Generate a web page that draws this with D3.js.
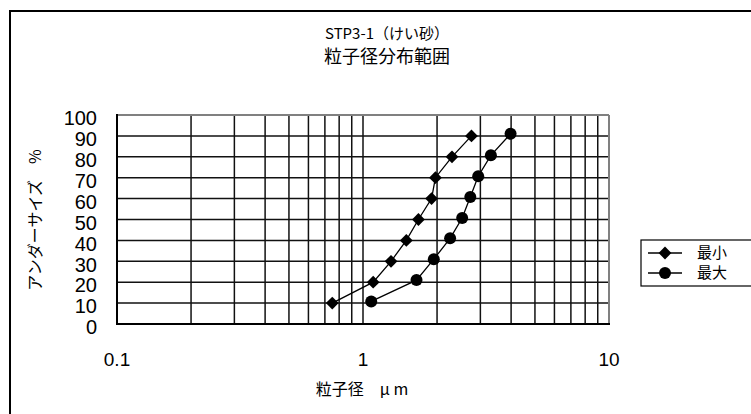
<!DOCTYPE html>
<html>
<head>
<meta charset="utf-8">
<script src="https://cdn.jsdelivr.net/npm/d3@7"></script>
<style>
  body { margin: 0; background: #fff; }
  svg text { fill: #000; }
  .jp { font-family: "Noto Sans CJK JP", sans-serif; }
  .num { font-family: "Liberation Sans", Arial, sans-serif; }
</style>
</head>
<body>
<svg id="chart" width="751" height="414"></svg>
<script>
// percent levels (under size %)
const pctLevels = [10, 20, 30, 40, 50, 60, 70, 80, 90];
// particle size, min curve (um)
const sizeMin = [0.75, 1.1, 1.3, 1.5, 1.68, 1.9, 1.97, 2.3, 2.76];
// particle size, max curve (um) and its plotted percents
const sizeMax = [1.08, 1.65, 1.94, 2.26, 2.53, 2.73, 2.94, 3.31, 3.98];
const pctMax = [10.8, 21, 31, 41, 50.7, 60.8, 70.7, 80.7, 91];
const seriesNames = ["最小", "最大"];
const xTickLabels = ["0.1", "1", "10"];
const yTickValues = [0, 10, 20, 30, 40, 50, 60, 70, 80, 90, 100];

const svg = d3.select("#chart");

// chart frame
svg.append("rect")
  .attr("x", 10).attr("y", 11)
  .attr("width", 800).attr("height", 500)
  .attr("fill", "none")
  .attr("stroke", "#000")
  .attr("stroke-width", 2);

const plot = { left: 117, right: 609, top: 115, bottom: 324 };

const x = d3.scaleLog().domain([0.1, 10]).range([plot.left, plot.right]);
const y = d3.scaleLinear().domain([0, 100]).range([plot.bottom, plot.top]);

// title
const title = svg.append("text")
  .attr("class", "jp")
  .attr("text-anchor", "middle")
  .style("font-size", "15px");
title.append("tspan").attr("x", 387).attr("y", 39).text("STP3-1（けい砂）");
title.append("tspan").attr("x", 387).attr("y", 63).style("font-size", "18px").text("粒子径分布範囲");

// grid
const g = svg.append("g");
const minorTicks = x.ticks(30).filter(d => d > 0.1 && d < 10);

g.selectAll(".vgrid")
  .data(minorTicks)
  .enter().append("line")
  .attr("class", "vgrid")
  .attr("x1", d => x(d)).attr("x2", d => x(d))
  .attr("y1", plot.top).attr("y2", plot.bottom)
  .attr("stroke", "#111")
  .attr("stroke-width", 1.5);

g.selectAll(".hgrid")
  .data(yTickValues.filter(d => d > 0 && d < 100))
  .enter().append("line")
  .attr("class", "hgrid")
  .attr("x1", plot.left).attr("x2", plot.right)
  .attr("y1", d => y(d)).attr("y2", d => y(d))
  .attr("stroke", "#111")
  .attr("stroke-width", 1.5);

// plot border: top/right grey, left/bottom black
g.append("line").attr("x1", plot.left).attr("x2", plot.right)
  .attr("y1", plot.top).attr("y2", plot.top)
  .attr("stroke", "#808080").attr("stroke-width", 2);
g.append("line").attr("x1", plot.right).attr("x2", plot.right)
  .attr("y1", plot.top).attr("y2", plot.bottom)
  .attr("stroke", "#808080").attr("stroke-width", 2);
g.append("line").attr("x1", plot.left).attr("x2", plot.left)
  .attr("y1", plot.top - 1).attr("y2", plot.bottom + 1)
  .attr("stroke", "#000").attr("stroke-width", 2);
g.append("line").attr("x1", plot.left - 1).attr("x2", plot.right + 1)
  .attr("y1", plot.bottom).attr("y2", plot.bottom)
  .attr("stroke", "#000").attr("stroke-width", 2);

// y tick labels
svg.selectAll(".ylab")
  .data(yTickValues)
  .enter().append("text")
  .attr("class", "ylab num")
  .attr("x", 97)
  .attr("y", d => y(d) + 3)
  .attr("dy", "0.36em")
  .attr("text-anchor", "end")
  .style("font-size", "20px")
  .text(d => d);

// x tick labels
svg.selectAll(".xlab")
  .data(xTickLabels)
  .enter().append("text")
  .attr("class", "xlab num")
  .attr("x", d => x(+d))
  .attr("y", 359)
  .attr("dy", "0.36em")
  .attr("text-anchor", "middle")
  .style("font-size", "19px")
  .text(d => d);

// axis titles
svg.append("text")
  .attr("class", "jp")
  .attr("transform", "translate(35,220) rotate(-90)")
  .attr("text-anchor", "middle")
  .attr("dy", "0.36em")
  .style("font-size", "16px")
  .text("アンダーサイズ　%");

svg.append("text")
  .attr("class", "jp")
  .attr("x", 362).attr("y", 389)
  .attr("dy", "0.36em")
  .attr("text-anchor", "middle")
  .style("font-size", "16px")
  .text("粒子径　μ m");

// series
const minData = pctLevels.map((p, i) => ({ s: sizeMin[i], p: p }));
const maxData = pctMax.map((p, i) => ({ s: sizeMax[i], p: p }));

const line = d3.line().x(d => x(d.s)).y(d => y(d.p));
const diamond = d3.symbol().type(d3.symbolSquare).size(82);

svg.append("path").datum(minData)
  .attr("d", line).attr("fill", "none")
  .attr("stroke", "#000").attr("stroke-width", 1.3);
svg.append("path").datum(maxData)
  .attr("d", line).attr("fill", "none")
  .attr("stroke", "#000").attr("stroke-width", 1.3);

svg.selectAll(".mk-min")
  .data(minData)
  .enter().append("path")
  .attr("class", "mk-min")
  .attr("transform", d => `translate(${x(d.s)},${y(d.p)}) rotate(45)`)
  .attr("d", diamond)
  .attr("fill", "#000");

svg.selectAll(".mk-max")
  .data(maxData)
  .enter().append("circle")
  .attr("class", "mk-max")
  .attr("cx", d => x(d.s)).attr("cy", d => y(d.p))
  .attr("r", 6)
  .attr("fill", "#000");

// legend
const legend = svg.append("g").attr("transform", "translate(641,240)");
legend.append("rect")
  .attr("width", 130).attr("height", 46)
  .attr("fill", "#fff")
  .attr("stroke", "#000").attr("stroke-width", 1.2);

const items = legend.selectAll(".legend-item")
  .data(seriesNames)
  .enter().append("g")
  .attr("class", "legend-item")
  .attr("transform", (d, i) => `translate(0, ${13 + i * 20})`);

items.append("line")
  .attr("x1", 7).attr("x2", 41)
  .attr("stroke", "#000").attr("stroke-width", 1.3);

items.filter((d, i) => i === 0).append("path")
  .attr("transform", "translate(24,0) rotate(45)")
  .attr("d", diamond).attr("fill", "#000");
items.filter((d, i) => i === 1).append("circle")
  .attr("cx", 24).attr("r", 6).attr("fill", "#000");

items.append("text")
  .attr("class", "jp")
  .attr("x", 56)
  .attr("dy", "0.36em")
  .style("font-size", "15px")
  .text(d => d);
</script>
</body>
</html>
